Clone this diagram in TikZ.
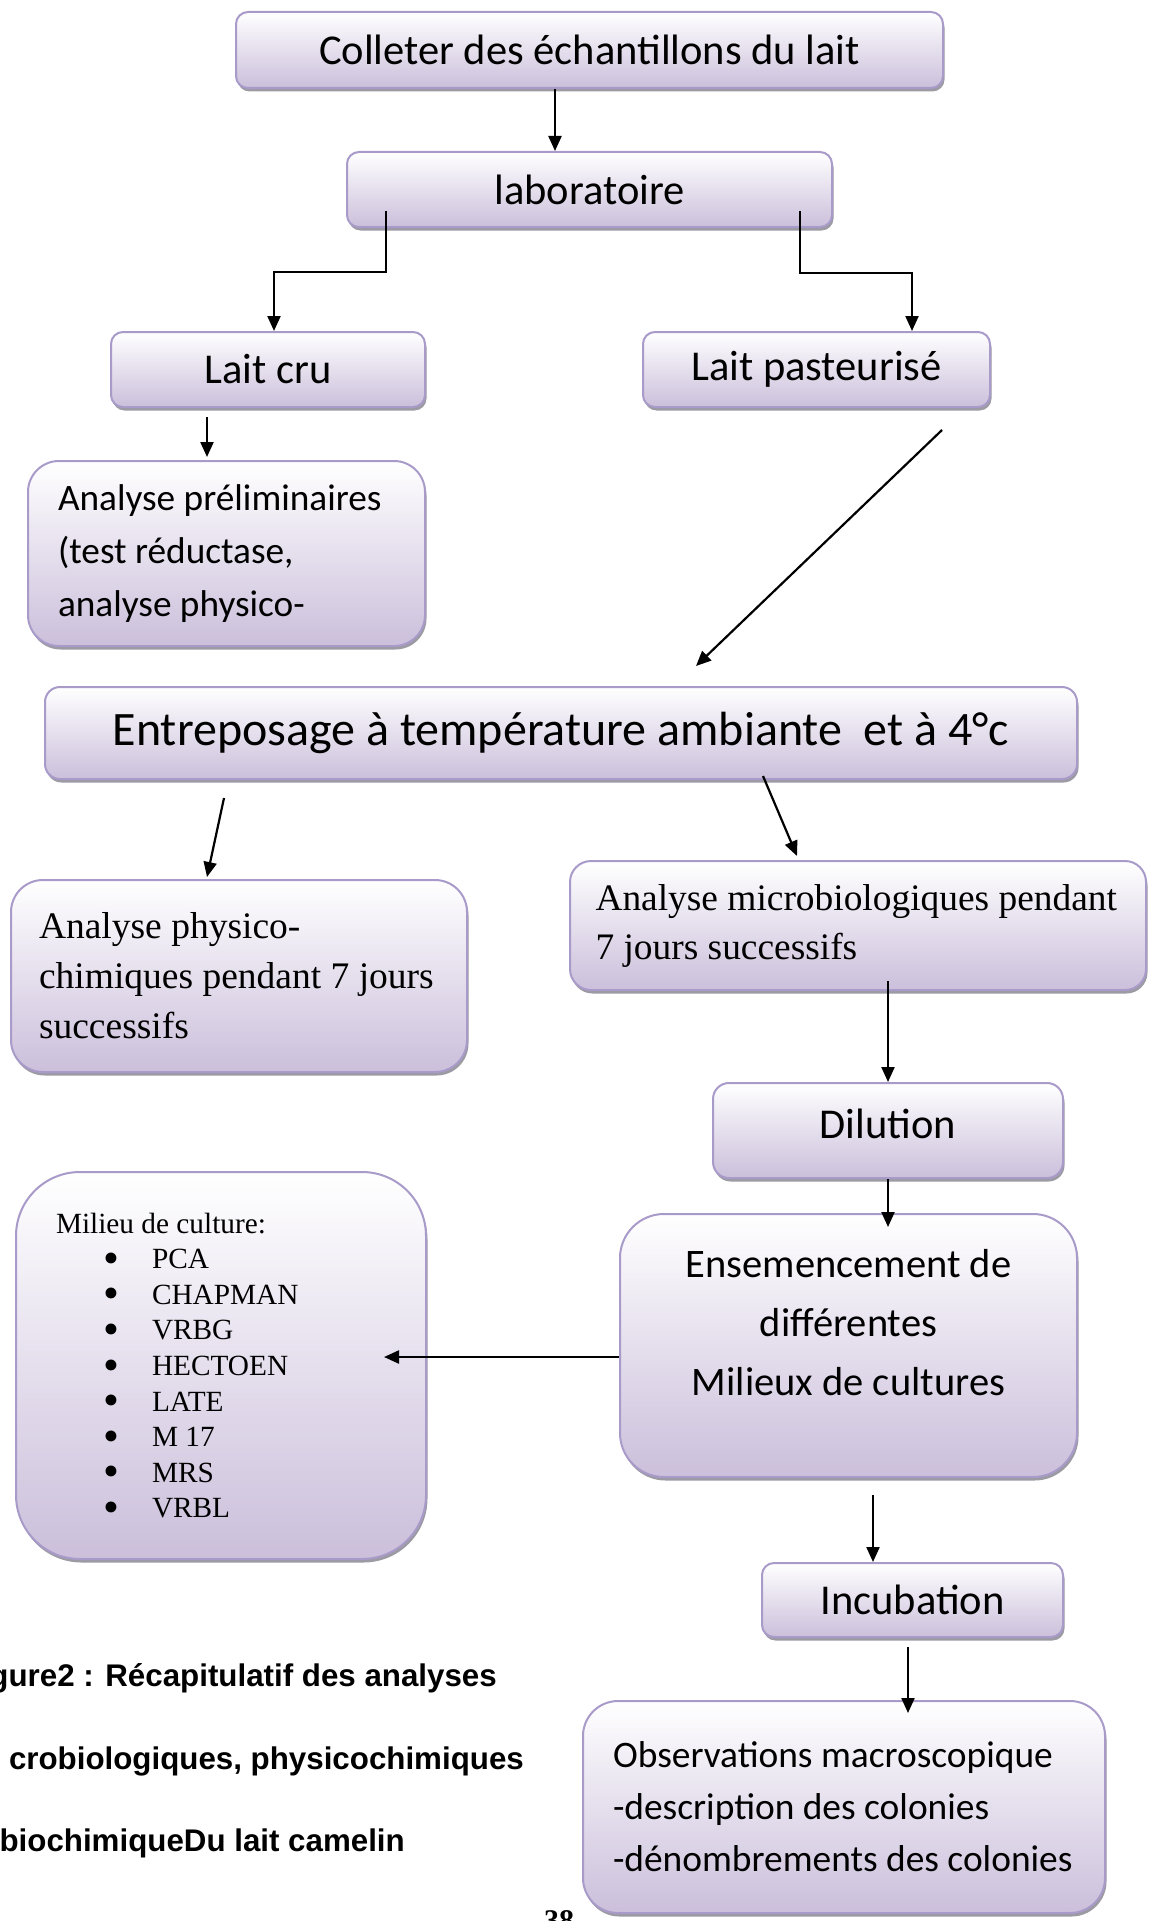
\documentclass[tikz,border=0pt]{standalone}
\usepackage{fontspec}
\setmainfont{Carlito}
\newfontfamily\timesfont{Liberation Serif}
\newfontfamily\arialfont{Liberation Sans}
\usetikzlibrary{arrows.meta,shadows}
\definecolor{boxlav}{HTML}{CBBFDB}
\definecolor{boxedge}{HTML}{A99BC9}
\definecolor{boxshadow}{HTML}{9C9AA3}
\newcommand{\puce}[1]{\hspace*{47pt}\makebox[49pt][l]{\raisebox{-0.16em}[0pt][0pt]{\scalebox{1.55}{\textbullet}}}#1}
\tikzset{
  stepbox/.style={draw=boxedge, line width=2pt, top color=white, bottom color=boxlav,
    drop shadow={shadow xshift=1.5pt, shadow yshift=-3.5pt, fill=boxshadow, opacity=1},
    inner sep=0pt, font=\fontsize{42.5}{51}\selectfont},
  arr/.style={-{Triangle[length=15pt,width=13pt]}, line width=2.2pt},
  captxt/.style={inner sep=0pt, font=\arialfont\bfseries\fontsize{31.3}{37}\selectfont},
}
\begin{document}
\begin{tikzpicture}[x=1pt,y=-1pt]
\useasboundingbox (0,0) rectangle (1149,1921);

% top of the chart
\node[stepbox, minimum width=707pt, minimum height=76pt, rounded corners=12pt] (collect) at (589.5,50) {Colleter des échantillons du lait};
\node[stepbox, minimum width=485pt, minimum height=75pt, rounded corners=12pt] (labo) at (589.5,189.5) {laboratoire};
\node[stepbox, minimum width=314pt, minimum height=75pt, rounded corners=12pt] (cru) at (268,369.5) {Lait cru};
\node[stepbox, minimum width=347pt, minimum height=75pt, rounded corners=12pt] (past) at (816.5,369.5) {Lait pasteurisé};
\node[stepbox, minimum width=397pt, minimum height=185pt, rounded corners=31pt, inner xsep=30pt,
  text width=337pt, align=flush left, font=\fontsize{37.3}{53}\selectfont] (prelim) at (226.5,553.5)
  {Analyse préliminaires\\(test réductase,\\analyse physico-};

% storage
\node[stepbox, minimum width=1032pt, minimum height=92pt, rounded corners=15pt,
  font=\fontsize{48}{58}\selectfont] (store) at (561,733) {Entreposage à température ambiante\ \ et à 4°c};

% two analyses
\node[stepbox, minimum width=456pt, minimum height=192pt, rounded corners=32pt, inner xsep=28pt,
  text width=400pt, align=flush left, font=\timesfont\fontsize{37.5}{50}\selectfont] (physchem) at (239,976)
  {Analyse physico-\\chimiques pendant 7 jours\\successifs};
\node[stepbox, minimum width=576pt, minimum height=129pt, rounded corners=21pt, inner xsep=25.5pt,
  text width=525pt, align=flush left, font=\timesfont\fontsize{37.4}{49}\selectfont] (micro) at (858,925.5)
  {Analyse microbiologiques pendant\\7 jours successifs};

% microbiology branch
\node[stepbox, minimum width=350pt, minimum height=95pt, rounded corners=16pt] (dilution) at (888,1130.5) {Dilution\vphantom{g}\rule[-14pt]{0pt}{1pt}};
\node[stepbox, minimum width=457pt, minimum height=263pt, rounded corners=44pt, align=center,
  font=\fontsize{40.5}{59}\selectfont] (ensemence) at (848.5,1345.5)
  {Ensemencement de\\différentes\\Milieux de cultures\\[-12pt]\mbox{}};
\node[stepbox, minimum width=410pt, minimum height=387pt, rounded corners=64pt, inner xsep=40pt,
  text width=330pt, align=flush left, font=\timesfont\fontsize{29.3}{35.6}\selectfont] (milieu) at (221,1365.5)
  {Milieu de culture:\\\puce{PCA}\\\puce{CHAPMAN}\\\puce{VRBG}\\\puce{HECTOEN}\\\puce{LATE}\\\puce{M 17}\\\puce{MRS}\\\puce{VRBL}};
\node[stepbox, minimum width=301pt, minimum height=74pt, rounded corners=12pt] (incub) at (912.5,1600) {Incubation};
\node[stepbox, minimum width=522pt, minimum height=212pt, rounded corners=35pt, inner xsep=30pt,
  text width=462pt, align=flush left, font=\fontsize{37.4}{52}\selectfont] (obs) at (844,1807)
  {Observations macroscopique\\-description des colonies\\-dénombrements des colonies};

% connectors
\draw[arr] ([xshift=-34.5pt]collect.south) -- ([xshift=-34.5pt]labo.north);
\draw[arr] ([xshift=-203.5pt,yshift=17pt]labo.south) -- ++(0,61) -| ([xshift=6pt]cru.north);
\draw[arr] ([xshift=210.5pt,yshift=17pt]labo.south) -- ++(0,62) -| ([xshift=95.5pt]past.north);
\draw[arr] ([xshift=-61pt,yshift=-9pt]cru.south) -- ([xshift=-19.5pt,yshift=3pt]prelim.north);
\draw[arr] ([xshift=125.5pt,yshift=-22pt]past.south) -- ([xshift=135pt,yshift=20pt]store.north);
\draw[arr] ([xshift=-337pt,yshift=-18pt]store.south) -- ([xshift=-32pt,yshift=2pt]physchem.north);
\draw[arr] ([xshift=202pt,yshift=4pt]store.south) -- ([xshift=-61pt,yshift=4pt]micro.north);
\draw[arr] ([xshift=30pt,yshift=10pt]micro.south) -- (dilution.north);
\draw[arr] (dilution.south) -- ([xshift=39.5pt,yshift=-14pt]ensemence.north);
\draw[arr] ([yshift=-11.5pt]ensemence.west) -- ([xshift=-43pt,yshift=8.5pt]milieu.east);
\draw[arr] ([xshift=24.5pt,yshift=-17pt]ensemence.south) -- ([xshift=-39.5pt]incub.north);
\draw[arr] ([xshift=-4.5pt,yshift=-9pt]incub.south) -- ([xshift=64pt,yshift=-13pt]obs.north);

% caption
\node[captxt, anchor=base east] (cap1) at (497,1686) {gure2 : Récapitulatif des analyses};
\node[captxt, anchor=base east] (cap2) at (524,1769) {crobiologiques, physicochimiques};
\node[captxt, anchor=base east] (cap3) at (405,1851) {biochimiqueDu lait camelin};
\node[inner sep=0pt, anchor=north west, font=\timesfont\bfseries\fontsize{30}{36}\selectfont] (page) at (544,1910) {38};

\end{tikzpicture}
\end{document}
